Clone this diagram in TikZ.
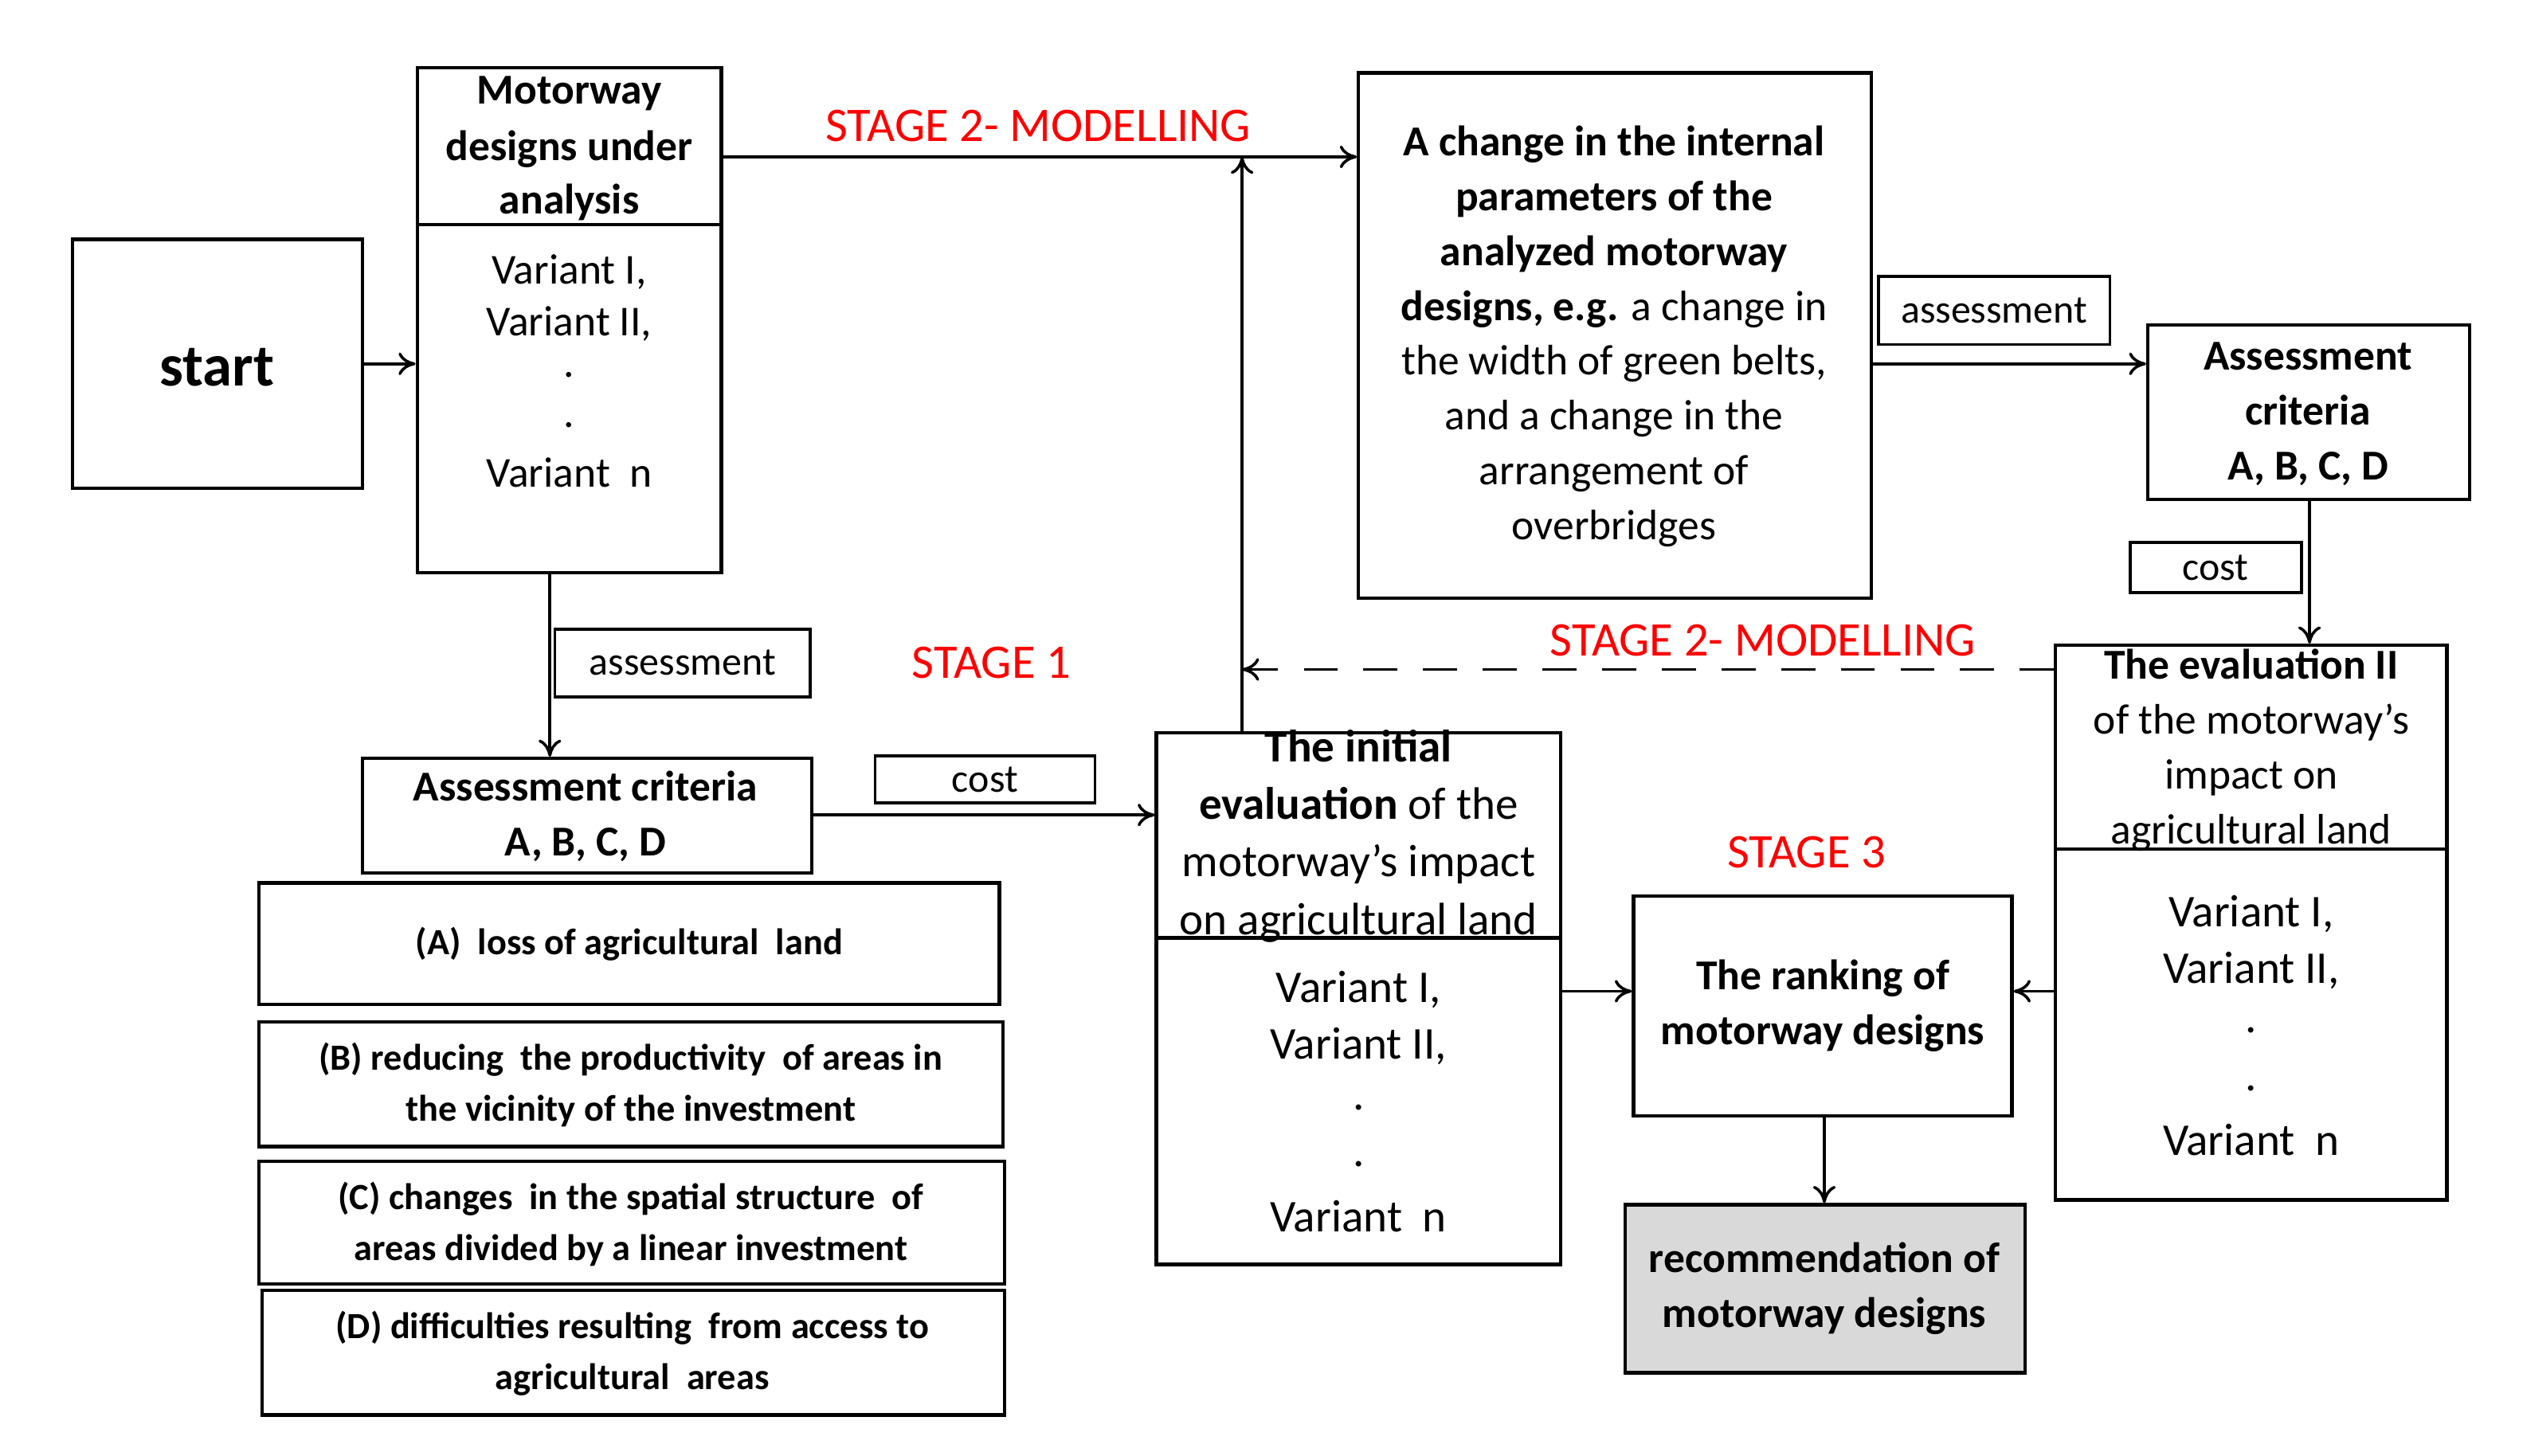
\documentclass[tikz,border=0pt]{standalone}
\usepackage{fontspec}
\setmainfont{Carlito}
\usetikzlibrary{arrows.meta}
\newcommand{\bx}[6][]{\node[box,#1,minimum width={(#4-#2)*0.02cm},minimum height={(#5-#3)*0.02cm}] (#6) at ({(#2+#4)/2},{(#3+#5)/2}) {};}
\begin{document}
\begin{tikzpicture}[x=0.02cm,y=-0.02cm,
  box/.style={draw,line width=1.2pt,inner sep=0pt},
  t/.style={font=\fontsize{15}{18}\selectfont,inner sep=0pt,align=center},
  b/.style={font=\fontsize{15}{18}\selectfont\bfseries,inner sep=0pt,align=center},
  s/.style={font=\fontsize{13}{16}\selectfont\bfseries,inner sep=0pt,align=center},
  st/.style={font=\fontsize{17}{20}\selectfont,text=red,inner sep=0pt},
  ar/.style={-{To[length=6pt,width=8pt]},line width=1pt},
  lb/.style={draw,line width=1pt,font=\fontsize{14}{16}\selectfont,inner sep=0pt}]
\useasboundingbox (0,0) rectangle (1560,900);
% boxes
\bx{45}{148}{224}{302}{start}
\node[b,font=\fontsize{21}{24}\selectfont\bfseries] (startt) at (134,227) {start};
\bx{258}{42}{446}{354}{mw}
\draw[line width=1.2pt] (mw.west |- 0,139) -- (mw.east |- 0,139);
\node[b] (mwt) at (352,58) {Motorway};
\node[b] (mwt2) at (352,92) {designs under};
\node[b] (mwt3) at (352,125) {analysis};
\foreach \n/\y/\s in {a/168/{Variant I,},b/200/{Variant II,},c/232/.,d/263/.,e/292/{Variant\ \ n}}
  \node[t] (mwv\n) at (352,\y) {\s};
\bx{840}{45}{1157}{370}{chg}
\node[t] (chgt) at (998,208) {\textbf{A change in the internal}\\[1.3pt]\textbf{parameters of the}\\[1.3pt]\textbf{analyzed motorway}\\[1.3pt]\textbf{designs, e.g.} a change in\\[1.3pt]the width of green belts,\\[1.3pt]and a change in the\\[1.3pt]arrangement of\\[1.3pt]overbridges};
\bx{1328}{201}{1527}{309}{acr}
\node[b] (acrt) at (1427,256) {Assessment\\[1.3pt]criteria\\[1.3pt]A, B, C, D};
\bx{1271}{399}{1513}{742}{ev2}
\draw[line width=1.2pt] (ev2.west |- 0,525) -- (ev2.east |- 0,525);
\node[t] (ev2t) at (1392,464) {\textbf{The evaluation II}\\[1.3pt]of the motorway’s\\[1.3pt]impact on\\[1.3pt]agricultural land};
\foreach \n/\y/\s in {a/565/{Variant I,},b/600/{Variant II,},c/637/.,d/673/.,e/705/{Variant\ \ n}}
  \node[t,font=\fontsize{16}{18}\selectfont] (ev2v\n) at (1392,\y) {\s};
\bx{224}{469}{502}{540}{acl}
\node[b] (aclt) at (362,505) {Assessment criteria\\[1.3pt]A, B, C, D};
\bx{715}{453}{965}{782}{ini}
\draw[line width=1.2pt] (ini.west |- 0,580) -- (ini.east |- 0,580);
\node[t,font=\fontsize{16}{19}\selectfont] (init) at (840,517) {\textbf{The initial}\\[1.3pt]\textbf{evaluation} of the\\[1.3pt]motorway’s impact\\[1.3pt]on agricultural land};
\foreach \n/\y/\s in {a/612/{Variant I,},b/647/{Variant II,},c/685/.,d/720/.,e/752/{Variant\ \ n}}
  \node[t,font=\fontsize{16}{18}\selectfont] (iniv\n) at (840,\y) {\s};
\bx{1010}{554}{1244}{690}{rank}
\node[b] (rankt) at (1127,622) {The ranking of\\[1.3pt]motorway designs};
\bx[fill=black!15]{1005}{745}{1252}{849}{rec}
\node[b] (rect) at (1128,797) {recommendation of\\[1.3pt]motorway designs};
\bx{160}{546}{618}{621}{ca}
\node[s] (cat) at (389,584) {(A)\ \ loss of agricultural\ \ land};
\bx{160}{632}{620}{709}{cb}
\node[s] (cbt) at (390,671) {(B) reducing\ \ the productivity\ \ of areas in\\[2pt]the vicinity of the investment};
\bx{160}{718}{621}{794}{cc}
\node[s] (cct) at (390,757) {(C) changes\ \ in the spatial structure\ \ of\\[2pt]areas divided by a linear investment};
\bx{162}{798}{621}{875}{cd}
\node[s] (cdt) at (391,837) {(D) difficulties resulting\ \ from access to\\[2pt]agricultural\ \ areas};
% labels
\node[lb,minimum width=2.86cm,minimum height=0.84cm] (l1) at (1233,192) {assessment};
\node[lb,minimum width=2.12cm,minimum height=0.62cm] (l2) at (1370,351) {cost};
\node[lb,minimum width=3.16cm,minimum height=0.84cm] (l3) at (422,410) {assessment};
\node[lb,minimum width=2.72cm,minimum height=0.58cm] (l4) at (609,482) {cost};
\node[st] (s1) at (642,78) {STAGE 2- MODELLING};
\node[st] (s2) at (1090,396) {STAGE 2- MODELLING};
\node[st] (s3) at (613,410) {STAGE 1};
\node[st] (s4) at (1117,527) {STAGE 3};
% connectors
\coordinate (j1) at (768,97);
\coordinate (j2) at (768,414);
\draw[ar] (start.east |- 0,225) -- (mw.west |- 0,225);
\draw[ar] (mw.east |- 0,97) -- (chg.west |- 0,97);
\draw[ar] (chg.east |- 0,225) -- (acr.west |- 0,225);
\draw[ar] (acr.south -| 1428,0) -- (ev2.north -| 1428,0);
\draw[ar,dash pattern=on 12pt off 9pt] (ev2.west |- 0,414) -- (j2);
\draw[ar] (ini.north -| 768,0) -- (j1);
\draw[ar] (mw.south -| 340,0) -- (acl.north -| 340,0);
\draw[ar] (acl.east |- 0,504) -- (ini.west |- 0,504);
\draw[ar] (ini.east |- 0,613) -- (rank.west |- 0,613);
\draw[ar] (ev2.west |- 0,613) -- (rank.east |- 0,613);
\draw[ar] (rank.south -| 1128,0) -- (rec.north -| 1128,0);
\end{tikzpicture}
\end{document}
